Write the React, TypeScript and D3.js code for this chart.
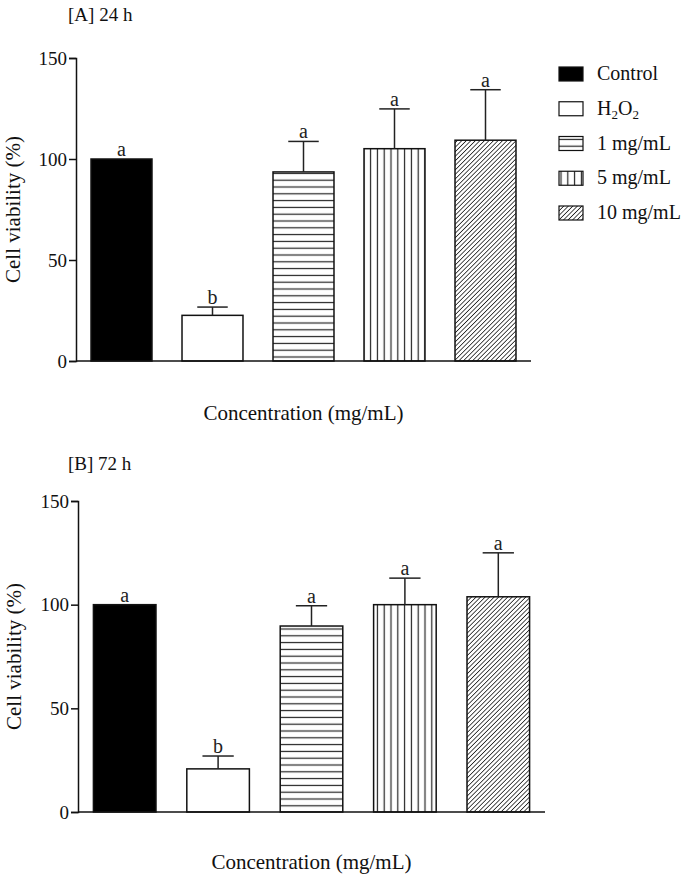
import React, { useRef, useEffect } from "react";
import * as d3 from "d3";

const categories = ["Control", "H2O2", "1 mg/mL", "5 mg/mL", "10 mg/mL"];
const patterns = ["solid", "empty", "hlines", "vlines", "diag"];
const yTicks = [0, 50, 100, 150];

const meanA = [100, 22.6, 93.6, 105.1, 109.3];
const errA = [0, 4.1, 15.1, 19.7, 25.0];
const lettersA = ["a", "b", "a", "a", "a"];

const meanB = [100, 20.8, 89.7, 100, 103.8];
const errB = [0, 6.2, 9.8, 12.8, 21.2];
const lettersB = ["a", "b", "a", "a", "a"];

const FONT = "'Liberation Serif', 'Times New Roman', serif";

interface PanelOpts {
  title: string;
  means: number[];
  errs: number[];
  letters: string[];
  axisX: number;
  xEnd: number;
  y0: number;
  yTop: number;
  titleY: number;
  xLabelY: number;
  yLabelX: number;
  legend: boolean;
}

const fillFor = (p: string) =>
  p === "solid" ? "#000" : p === "empty" ? "#fff" : `url(#pat-${p})`;

const App: React.FC = () => {
  const ref = useRef<SVGSVGElement | null>(null);

  useEffect(() => {
    document.body.style.margin = "0";
    const svg = d3.select(ref.current);
    svg.selectAll("*").remove();

    // hatch patterns
    const defs = svg.append("defs");
    const h = defs
      .append("pattern")
      .attr("id", "pat-hlines")
      .attr("patternUnits", "userSpaceOnUse")
      .attr("width", 8)
      .attr("height", 6.8);
    h.append("rect").attr("width", 8).attr("height", 6.8).attr("fill", "#fff");
    h.append("line")
      .attr("x1", 0).attr("x2", 8).attr("y1", 3.4).attr("y2", 3.4)
      .attr("stroke", "#222").attr("stroke-width", 1.2);

    const v = defs
      .append("pattern")
      .attr("id", "pat-vlines")
      .attr("patternUnits", "userSpaceOnUse")
      .attr("width", 6.8)
      .attr("height", 8);
    v.append("rect").attr("width", 6.8).attr("height", 8).attr("fill", "#fff");
    v.append("line")
      .attr("x1", 3.4).attr("x2", 3.4).attr("y1", 0).attr("y2", 8)
      .attr("stroke", "#222").attr("stroke-width", 1.2);

    const dg = defs
      .append("pattern")
      .attr("id", "pat-diag")
      .attr("patternUnits", "userSpaceOnUse")
      .attr("width", 3.2)
      .attr("height", 3.2)
      .attr("patternTransform", "rotate(45)");
    dg.append("rect").attr("width", 3.2).attr("height", 3.2).attr("fill", "#fff");
    dg.append("line")
      .attr("x1", 0).attr("x2", 0).attr("y1", 0).attr("y2", 3.2)
      .attr("stroke", "#222").attr("stroke-width", 1.6);

    const drawPanel = (o: PanelOpts) => {
      const g = svg.append("g");
      const x = d3
        .scaleBand<string>()
        .domain(categories)
        .range([o.axisX, o.xEnd])
        .paddingInner(0.33)
        .paddingOuter(0.165);
      const y = d3.scaleLinear().domain([0, 150]).range([o.y0, o.yTop]);
      const bw = x.bandwidth();

      // bars
      g.selectAll(".bar")
        .data(categories)
        .enter()
        .append("rect")
        .attr("x", (d) => x(d)!)
        .attr("y", (d, i) => y(o.means[i]))
        .attr("width", bw)
        .attr("height", (d, i) => y(0) - y(o.means[i]))
        .attr("fill", (d, i) => fillFor(patterns[i]))
        .attr("stroke", "#111")
        .attr("stroke-width", 1.5);

      // error bars
      categories.forEach((c, i) => {
        if (o.errs[i] <= 0) return;
        const cx = x(c)! + bw / 2;
        const top = y(o.means[i] + o.errs[i]);
        g.append("line")
          .attr("x1", cx).attr("x2", cx)
          .attr("y1", y(o.means[i])).attr("y2", top)
          .attr("stroke", "#222").attr("stroke-width", 1.5);
        g.append("line")
          .attr("x1", cx - bw / 4).attr("x2", cx + bw / 4)
          .attr("y1", top).attr("y2", top)
          .attr("stroke", "#222").attr("stroke-width", 1.5);
      });

      // significance letters
      g.selectAll(".letter")
        .data(categories)
        .enter()
        .append("text")
        .attr("x", (d) => x(d)! + bw / 2)
        .attr("y", (d, i) => y(o.means[i] + o.errs[i]) - 3)
        .attr("text-anchor", "middle")
        .style("font-family", FONT)
        .style("font-size", "20px")
        .attr("fill", "#222")
        .text((d, i) => o.letters[i]);

      // y axis
      const yAxis = g
        .append("g")
        .attr("transform", `translate(${o.axisX},0)`)
        .call(
          d3.axisLeft(y).tickValues(yTicks).tickSize(7).tickPadding(2) as any
        );
      yAxis.select(".domain").attr("stroke", "#111").attr("stroke-width", 1.5);
      yAxis.selectAll(".tick line").attr("stroke", "#111").attr("stroke-width", 1.5);
      yAxis
        .selectAll("text")
        .style("font-family", FONT)
        .style("font-size", "19px")
        .attr("fill", "#111");

      // x axis line
      g.append("line")
        .attr("x1", o.axisX).attr("x2", o.xEnd)
        .attr("y1", y(0)).attr("y2", y(0))
        .attr("stroke", "#111").attr("stroke-width", 1.5);

      // titles
      g.append("text")
        .attr("x", 68)
        .attr("y", o.titleY)
        .style("font-family", FONT)
        .style("font-size", "19px")
        .attr("fill", "#111")
        .text(o.title);

      g.append("text")
        .attr("x", (o.axisX + o.xEnd) / 2)
        .attr("y", o.xLabelY)
        .attr("text-anchor", "middle")
        .style("font-family", FONT)
        .style("font-size", "21px")
        .attr("fill", "#111")
        .text("Concentration (mg/mL)");

      g.append("text")
        .attr("transform", `translate(${o.yLabelX},${(o.y0 + o.yTop) / 2}) rotate(-90)`)
        .attr("text-anchor", "middle")
        .style("font-family", FONT)
        .style("font-size", "21px")
        .attr("fill", "#111")
        .text("Cell viability (%)");

      if (!o.legend) return;
      const ly = d3
        .scalePoint<string>()
        .domain(categories)
        .range([74, 213]);
      categories.forEach((c, i) => {
        const cy = ly(c)!;
        g.append("rect")
          .attr("x", 559)
          .attr("y", cy - 7)
          .attr("width", 24)
          .attr("height", 14)
          .attr("fill", fillFor(patterns[i]))
          .attr("stroke", "#111")
          .attr("stroke-width", 1.2);
        const t = g
          .append("text")
          .attr("x", 597)
          .attr("y", cy + 6)
          .style("font-family", FONT)
          .style("font-size", "20px")
          .attr("fill", "#111");
        if (c === "H2O2") {
          t.append("tspan").text("H");
          t.append("tspan").attr("dy", 4).style("font-size", "13px").text("2");
          t.append("tspan").attr("dy", -4).text("O");
          t.append("tspan").attr("dy", 4).style("font-size", "13px").text("2");
        } else {
          t.text(c);
        }
      });
    };

    drawPanel({
      title: "[A] 24 h",
      means: meanA,
      errs: errA,
      letters: lettersA,
      axisX: 76,
      xEnd: 531,
      y0: 361,
      yTop: 58,
      titleY: 21,
      xLabelY: 420,
      yLabelX: 20,
      legend: true,
    });
    drawPanel({
      title: "[B] 72 h",
      means: meanB,
      errs: errB,
      letters: lettersB,
      axisX: 78,
      xEnd: 545,
      y0: 812,
      yTop: 501,
      titleY: 470,
      xLabelY: 869,
      yLabelX: 21,
      legend: false,
    });
  }, []);

  return (
    <svg
      ref={ref}
      width={685}
      height={879}
      style={{ display: "block", background: "#fff" }}
    />
  );
};

export default App;
